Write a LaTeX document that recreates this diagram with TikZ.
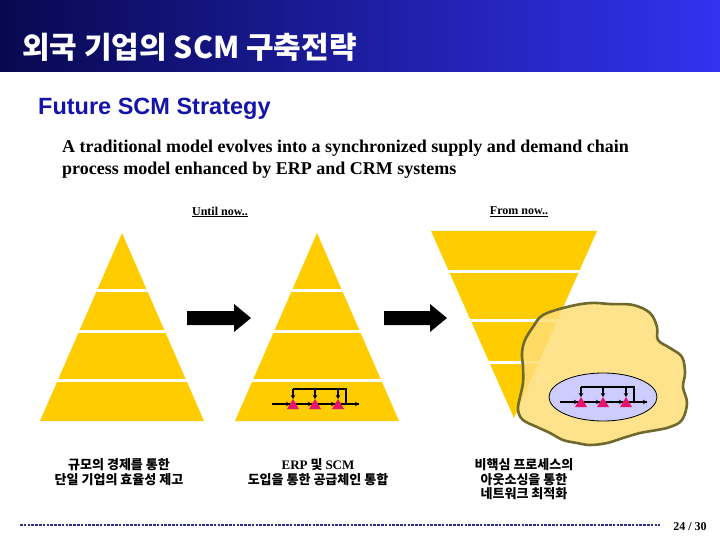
\documentclass[tikz,border=0pt]{standalone}
\usepackage{fontspec}
\setmainfont{Liberation Serif}
\setsansfont{Liberation Sans}
\newfontfamily\kr{Noto Sans CJK KR}
\usetikzlibrary{arrows.meta}
\definecolor{titleL}{RGB}{8,8,80}
\definecolor{titleR}{RGB}{50,50,240}
\definecolor{futureblue}{RGB}{20,20,170}
\definecolor{pyr}{RGB}{255,204,0}
\definecolor{blobfill}{RGB}{255,222,120}
\definecolor{blobline}{RGB}{110,105,45}
\definecolor{lav}{RGB}{204,204,255}
\definecolor{tri}{RGB}{230,20,110}
\definecolor{dotcol}{RGB}{45,45,140}
\tikzset{
  pyrfill/.style={fill=pyr},
  gap/.style={white,line width=3pt},
  blockarrow/.style={fill=black},
  flow/.style={black,line width=1.3pt},
  flowarr/.style={black,line width=1.3pt,-{Stealth[length=4pt,width=4.5pt]}},
  kortext/.style={font=\kr\bfseries\fontsize{13}{14.5}\selectfont,align=center,inner sep=0pt},
  procchain/.pic={
    \draw[flow] (-43,-5) -- (44,-5);
    \draw[flowarr] (-43,-5) -- (-25,-5);
    \draw[flowarr] (-22,-5) -- (-3,-5);
    \draw[flowarr] (0,-5) -- (20,-5);
    \draw[flowarr] (23,-5) -- (44,-5);
    \draw[flow] (31,-5) -- (31,-20) -- (-22,-20);
    \draw[flowarr] (-22,-20) -- (-22,-10);
    \draw[flowarr] (0,-20) -- (0,-10);
    \draw[flowarr] (23,-20) -- (23,-10);
    \foreach \cx in {-22,0,23}
      \fill[tri] (\cx-6,0) -- (\cx+6,0) -- (\cx,-10) -- cycle;
  }
}
\begin{document}
\begin{tikzpicture}[x=1pt,y=-1pt]
\useasboundingbox (0,0) rectangle (720,540);
\fill[white] (0,0) rectangle (720,540);
% title bar
\shade[left color=titleL,right color=titleR] (0,0) rectangle (720,72);
\node[anchor=base west,text=white,inner sep=0pt,font=\kr\bfseries\fontsize{30}{32}\selectfont] (title) at (22,59) {외국 기업의 SCM 구축전략};
\node[anchor=base west,text=futureblue,inner sep=0pt,font=\sffamily\bfseries\fontsize{23.5}{26}\selectfont] (sub) at (38,115) {Future SCM Strategy};
\node[anchor=base west,inner sep=0pt,font=\bfseries\fontsize{18}{20}\selectfont] (para1) at (62,153) {A traditional model evolves into a synchronized supply and demand chain};
\node[anchor=base west,inner sep=0pt,font=\bfseries\fontsize{18}{20}\selectfont] (para2) at (62,175) {process model enhanced by ERP and CRM systems};
\node[inner sep=0pt,font=\bfseries\fontsize{12}{13}\selectfont] (until) at (220,212) {\underline{Until now..}};
\node[inner sep=0pt,font=\bfseries\fontsize{12}{13}\selectfont] (from) at (519,212) {\underline{From now..}};
% pyramid 1
\begin{scope}
\fill[pyrfill] (122,233) -- (204,421) -- (40,421) -- cycle;
\clip (122,233) -- (204,421) -- (40,421) -- cycle;
\foreach \yy in {290,331,380} \draw[gap] (30,\yy) -- (214,\yy);
\end{scope}
% pyramid 2
\begin{scope}
\fill[pyrfill] (317,233) -- (399,421) -- (235,421) -- cycle;
\clip (317,233) -- (399,421) -- (235,421) -- cycle;
\foreach \yy in {290,331,380} \draw[gap] (225,\yy) -- (409,\yy);
\end{scope}
\pic at (315,409) {procchain};
% pyramid 3 (inverted)
\begin{scope}
\fill[pyrfill] (431,231) -- (597,231) -- (514,418) -- cycle;
\clip (431,231) -- (597,231) -- (514,418) -- cycle;
\foreach \yy in {271,320,362} \draw[gap] (421,\yy) -- (607,\yy);
\end{scope}
% block arrows
\fill[blockarrow] (187,311) -- (234,311) -- (234,304) -- (251,318) -- (234,332) -- (234,325) -- (187,325) -- cycle;
\fill[blockarrow] (384,311) -- (430,311) -- (430,304) -- (447,318) -- (430,332) -- (430,325) -- (384,325) -- cycle;
% blob
\filldraw[fill=blobfill,fill opacity=0.85,draw=blobline,line width=2.6pt]
  plot[smooth cycle,tension=0.6] coordinates {
  (533,327) (543,315) (567,307) (590,303) (610,304) (633,305) (650,313)
  (657,327) (658,340) (670,348) (682,357) (685,373) (683,387) (687,403)
  (682,420) (670,427) (657,430) (640,433) (623,438) (607,443) (590,445)
  (577,443) (563,440) (550,433) (537,427) (523,420) (518,410) (520,397)
  (523,383) (523,367) (522,353) (525,340)};
\draw[fill=lav,line width=0.8pt] (603,397) ellipse [x radius=54pt,y radius=24pt];
\pic at (603,407) {procchain};
% bottom texts
\node[kortext] (t1) at (119,472) {규모의 경제를 통한\\단일 기업의 효율성 제고};
\node[kortext] (t2) at (318,472) {{\rmfamily ERP} 및 {\rmfamily SCM}\\도입을 통한 공급체인 통합};
\node[kortext] (t3) at (524,479.5) {비핵심 프로세스의\\아웃소싱을 통한\\네트워크 최적화};
% footer
\draw[dotcol,line width=2.8pt,dash pattern=on 2.6pt off 1.2pt] (20,525) -- (660,525);
\node[inner sep=0pt,font=\bfseries\fontsize{12}{14}\selectfont] (page) at (690,527) {24 / 30};
\end{tikzpicture}
\end{document}
